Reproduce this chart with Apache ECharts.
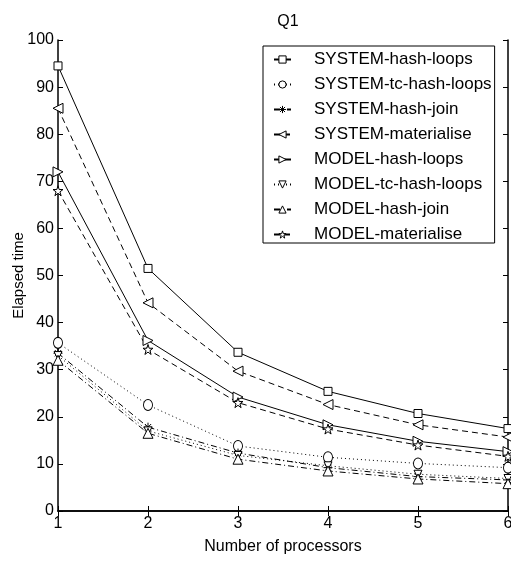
<!DOCTYPE html>
<html><head><meta charset="utf-8">
<script src="https://cdn.jsdelivr.net/npm/echarts@6/dist/echarts.min.js"></script>
<style>html,body{margin:0;padding:0;background:#fff}#c{width:511px;height:567px}</style>
</head><body><div id="c"></div>
<script>
const processors = [1, 2, 3, 4, 5, 6];
const seriesNames = ['SYSTEM-hash-loops','SYSTEM-tc-hash-loops','SYSTEM-hash-join','SYSTEM-materialise','MODEL-hash-loops','MODEL-tc-hash-loops','MODEL-hash-join','MODEL-materialise'];
const systemHashLoops   = [94.5, 51.5, 33.7, 25.4, 20.7, 17.5];
const systemTcHashLoops = [35.7, 22.5, 13.8, 11.4, 10.1, 9.2];
const systemHashJoin    = [33.5, 17.8, 12.3, 9.2, 7.3, 6.6];
const systemMaterialise = [85.5, 44.2, 29.7, 22.6, 18.3, 15.7];
const modelHashLoops    = [72.0, 36.2, 24.2, 18.3, 14.8, 12.6];
const modelTcHashLoops  = [33.0, 17.0, 11.8, 9.6, 7.8, 6.9];
const modelHashJoin     = [32.0, 16.5, 11.0, 8.5, 6.8, 5.8];
const modelMaterialise  = [68.0, 34.3, 23.0, 17.4, 14.0, 11.6];
const xTicks = [1, 2, 3, 4, 5, 6];
const yTicks = [0, 10, 20, 30, 40, 50, 60, 70, 80, 90, 100];
const yAxisTitle = 'Elapsed time';
const xAxisTitle = 'Number of processors';

const values = [systemHashLoops, systemTcHashLoops, systemHashJoin, systemMaterialise, modelHashLoops, modelTcHashLoops, modelHashJoin, modelMaterialise];
const asterisk = 'path://M5,0L5,10M0,5L10,5M1.5,1.5L8.5,8.5M8.5,1.5L1.5,8.5';
const star = 'path://M50,0L61.8,36.2L100,36.2L69.1,58.6L80.9,95.1L50,72.7L19.1,95.1L30.9,58.6L0,36.2L38.2,36.2Z';
const styles = [
  {symbol:'rect', size:8, rot:0, dash:'solid'},
  {symbol:'circle', size:[9,11], rot:0, dash:[1,3]},
  {symbol:asterisk, size:9, rot:0, dash:[6,3,1,3], stroke:true},
  {symbol:'triangle', size:10, rot:90, dash:[6,4]},
  {symbol:'triangle', size:10, rot:-90, dash:'solid'},
  {symbol:'triangle', size:8, rot:180, dash:[1,3]},
  {symbol:'triangle', size:10, rot:0, dash:[6,3,1,3]},
  {symbol:star, size:10, rot:0, dash:[6,4]}
];
const FONT = 'Liberation Sans';
const fillOf = i => styles[i].stroke ? 'rgba(0,0,0,0)' : '#fff';
const series = seriesNames.map((n,i)=>({
  name:n, type:'line',
  data: processors.map((p,j)=>[p, values[i][j]]),
  symbol: styles[i].symbol, symbolSize: styles[i].size, symbolRotate: styles[i].rot,
  showAllSymbol:true, clip:false,
  lineStyle:{color:'#000', width:1, type:styles[i].dash},
  itemStyle:{color: fillOf(i), borderColor:'#000', borderWidth:1},
  emphasis:{disabled:true}, animation:false
}));
const chart = echarts.init(document.getElementById('c'));
chart.setOption({
  animation:false,
  textStyle:{fontFamily:FONT},
  title:{text:'Q1', left:283, top:9, textAlign:'center', textStyle:{fontFamily:FONT, fontSize:16, fontWeight:'normal', color:'#000'}},
  grid:{left:58, right:3, top:40, bottom:56, containLabel:false, outerBoundsMode:'none'},
  graphic:[{
    type:'text', x:19, y:275.5, rotation:Math.PI/2, silent:true,
    style:{text:yAxisTitle, fontFamily:FONT, fontSize:15, fill:'#000', align:'center', verticalAlign:'middle'}
  }],
  legend:{
    orient:'vertical', left:263, top:46, backgroundColor:'#fff', borderColor:'#000', borderWidth:1,
    padding:[5,3,0,10], itemGap:8, itemWidth:17, itemHeight:9,
    textStyle:{fontFamily:FONT, fontSize:17, color:'#000', padding:[0,0,0,18]},
    data: seriesNames.map((n,i)=>({name:n, itemStyle:{color: fillOf(i), borderColor:'#000', borderWidth:1}}))
  },
  xAxis:[{
    type:'value', min:1, max:6, interval:1, name:xAxisTitle, nameLocation:'middle', nameGap:28,
    nameTextStyle:{fontFamily:FONT, fontSize:16, color:'#000'},
    axisLine:{lineStyle:{color:'#000', width:1.5}}, axisTick:{inside:true, length:5, lineStyle:{color:'#000'}},
    axisLabel:{fontFamily:FONT, fontSize:16, color:'#000', margin:5, formatter:v=>xTicks.includes(v)?String(v):''},
    splitLine:{show:false}
  },{
    type:'value', position:'top', min:1, max:6, interval:1,
    axisLine:{lineStyle:{color:'#000', width:1.5}}, axisTick:{inside:true, length:5, lineStyle:{color:'#000'}},
    axisLabel:{show:false}, splitLine:{show:false}
  }],
  yAxis:[{
    type:'value', min:0, max:100, interval:10,
    axisLine:{lineStyle:{color:'#000', width:1.5}}, axisTick:{inside:true, length:5, lineStyle:{color:'#000'}},
    axisLabel:{fontFamily:FONT, fontSize:16, color:'#000', margin:4, formatter:v=>yTicks.includes(v)?String(v):''},
    splitLine:{show:false}
  },{
    type:'value', position:'right', min:0, max:100, interval:10,
    axisLine:{lineStyle:{color:'#000', width:1.5}}, axisTick:{inside:true, length:5, lineStyle:{color:'#000'}},
    axisLabel:{show:false}, splitLine:{show:false}
  }],
  series: series
});
</script></body></html>
